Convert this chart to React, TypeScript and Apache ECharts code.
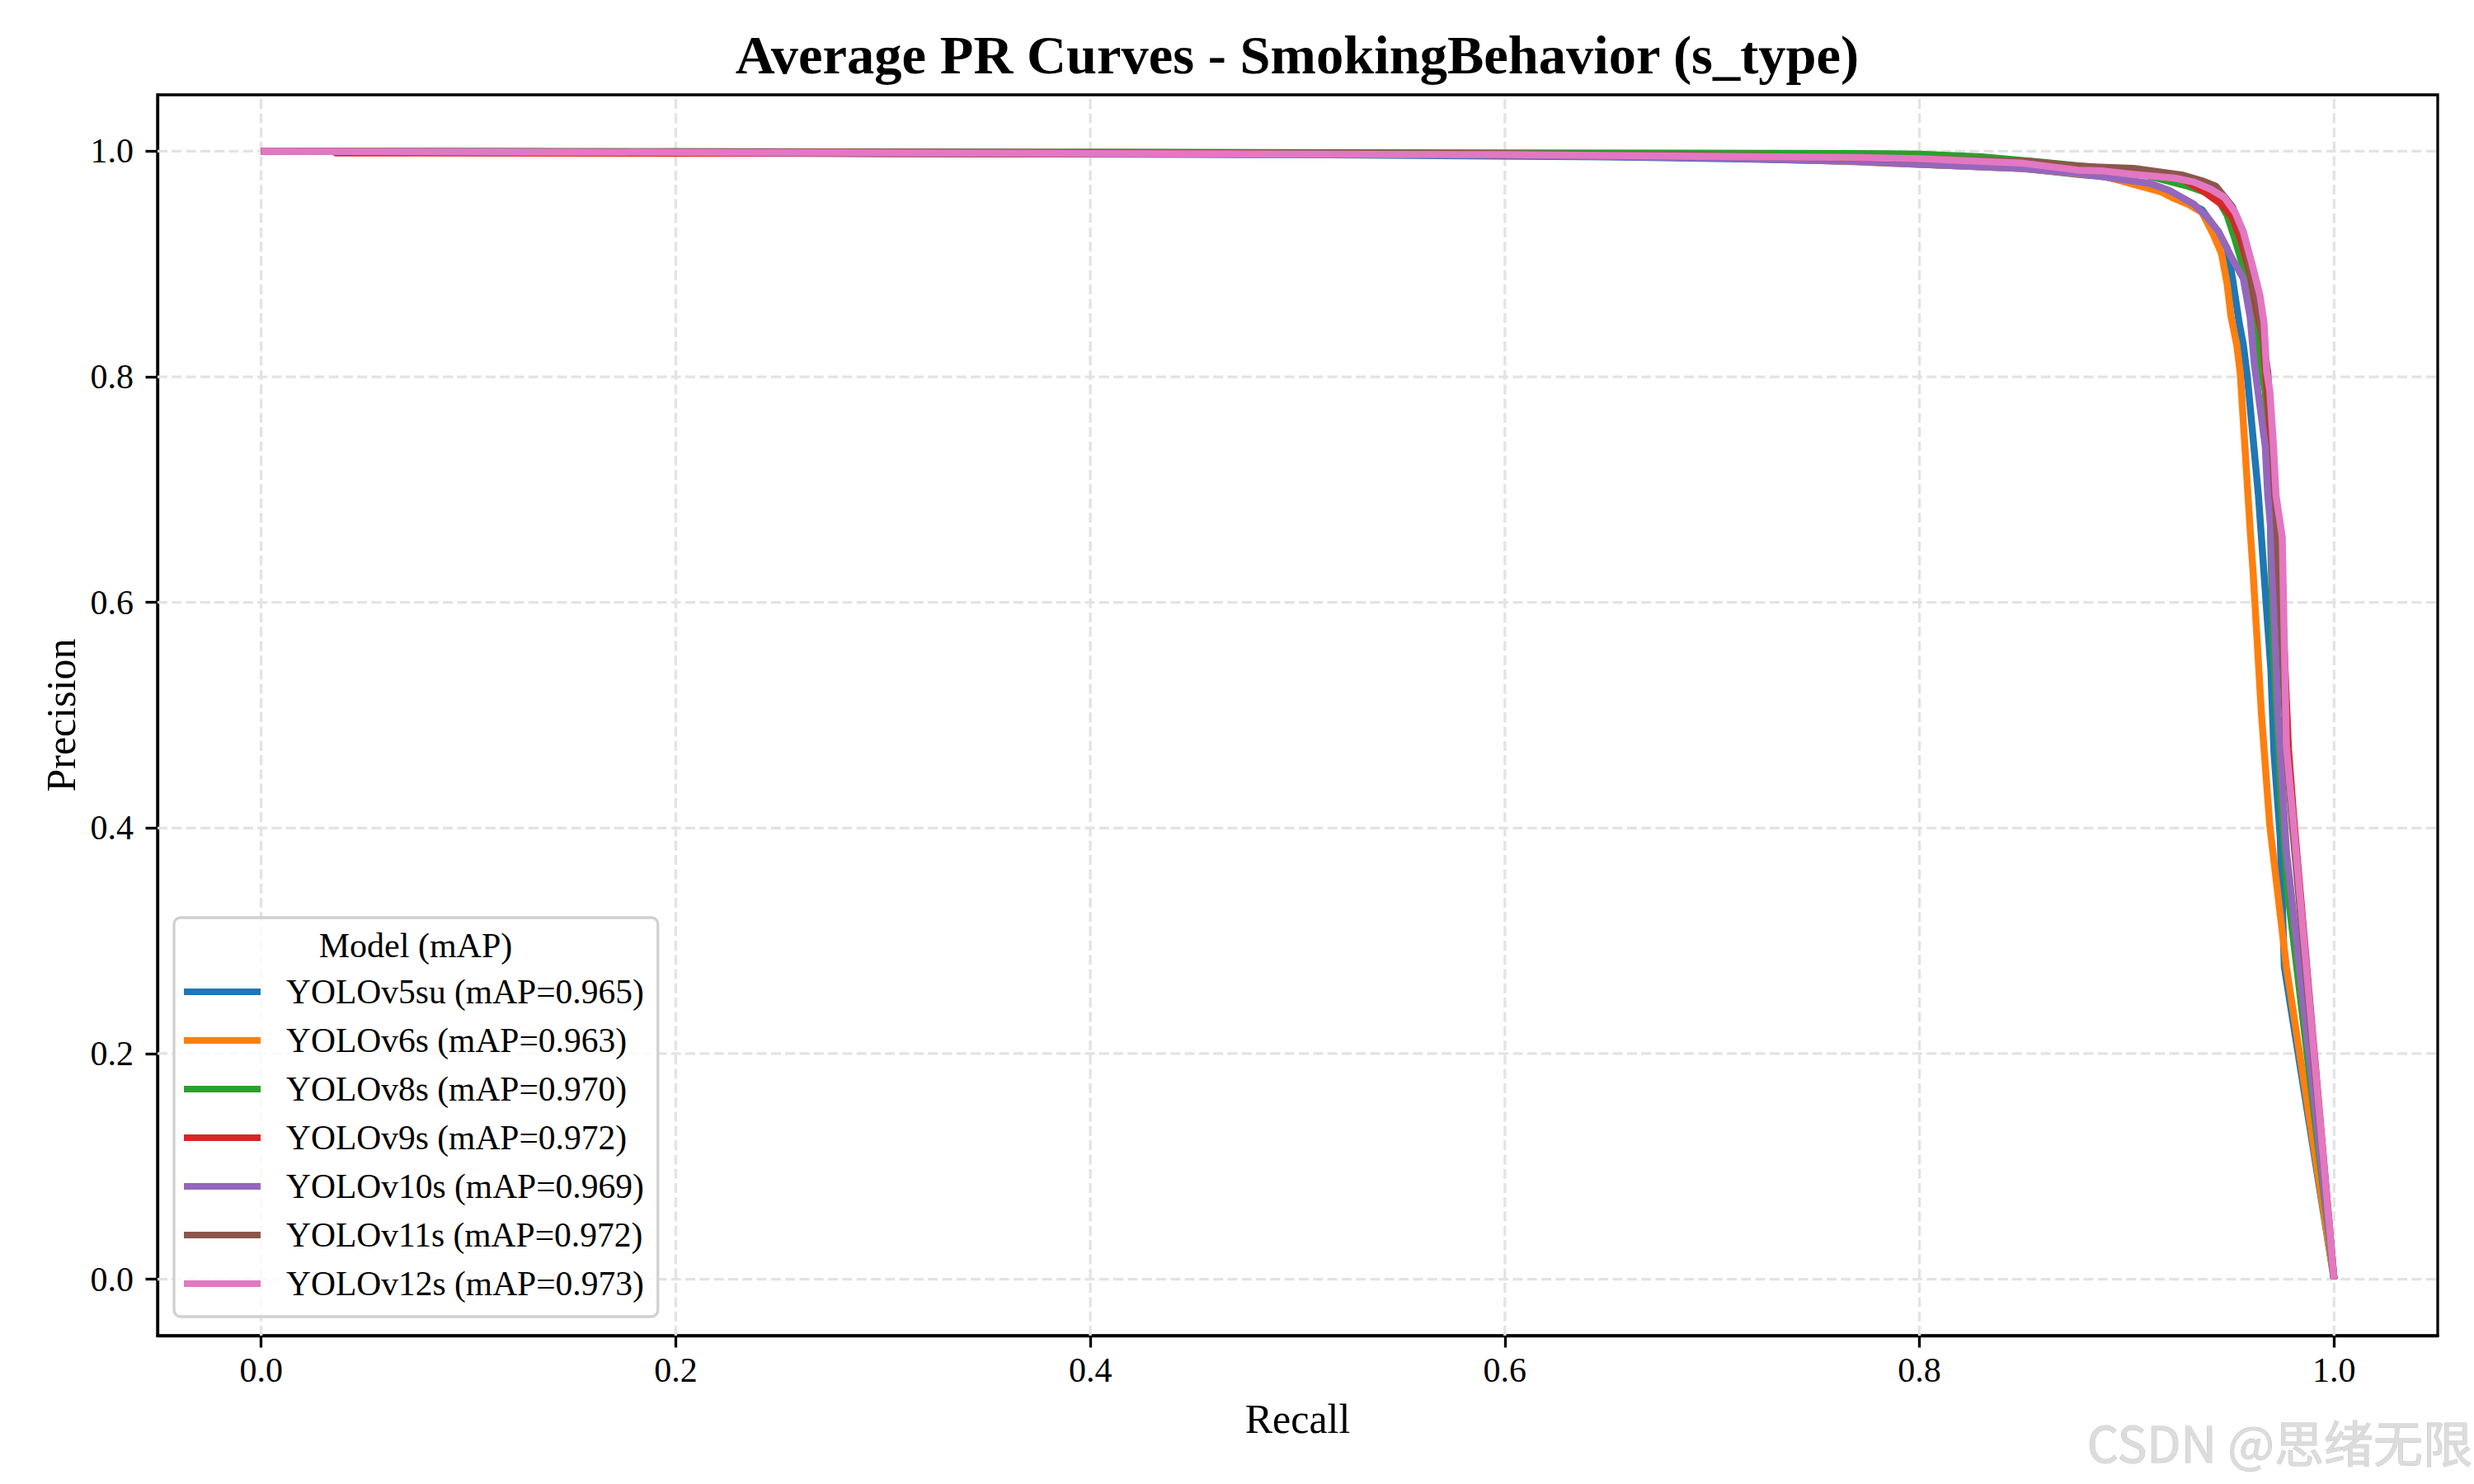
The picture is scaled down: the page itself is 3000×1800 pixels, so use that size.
import React, { useEffect, useRef } from "react";
import * as echarts from "echarts";

// ---------- data ----------
const MODEL_NAMES = ["YOLOv5su", "YOLOv6s", "YOLOv8s", "YOLOv9s", "YOLOv10s", "YOLOv11s", "YOLOv12s"];
const MAP_VALUES = ["0.965", "0.963", "0.970", "0.972", "0.969", "0.972", "0.973"];
const COLORS = ["#1f77b4", "#ff7f0e", "#2ca02c", "#d62728", "#9467bd", "#8c564b", "#e377c2"];
const TICKS = [0, 0.2, 0.4, 0.6, 0.8, 1.0];
const AXIS_MIN = -0.05;
const AXIS_MAX = 1.05;
const TITLE = "Average PR Curves - SmokingBehavior (s_type)";
const LEGEND_TITLE = "Model (mAP)";

// [recall, precision]
const PR_V5SU = [
  [0, 1.0], [0.13, 0.9995], [0.3, 0.998], [0.5, 0.997], [0.65, 0.995], [0.72, 0.993],
  [0.77, 0.991], [0.8, 0.9884], [0.85, 0.9848], [0.8766, 0.9794], [0.8886, 0.9775],
  [0.9125, 0.9689], [0.9296, 0.9543], [0.9363, 0.948], [0.943, 0.931], [0.9484, 0.914],
  [0.951, 0.8872], [0.9542, 0.848], [0.9562, 0.8287], [0.9582, 0.7994], [0.9635, 0.695],
  [0.9695, 0.541], [0.971, 0.467], [0.974, 0.393], [0.976, 0.277], [1.0, 0.0],
];
const PR_V6S = [
  [0, 1.0], [0.2, 0.999], [0.4, 0.998], [0.6, 0.997], [0.72, 0.994], [0.8, 0.9884],
  [0.85, 0.9845], [0.8886, 0.978], [0.9165, 0.964], [0.923, 0.958], [0.9296, 0.953],
  [0.9363, 0.9457], [0.9417, 0.9264], [0.9457, 0.9092], [0.9484, 0.8825], [0.9503, 0.8533],
  [0.953, 0.8287], [0.9547, 0.8043], [0.9595, 0.665], [0.961, 0.625], [0.965, 0.5],
  [0.969, 0.402], [0.977, 0.277], [1.0, 0.0],
];
const PR_V8S = [
  [0, 1.0], [0.2, 0.9995], [0.4, 0.999], [0.6, 0.9985], [0.769, 0.998], [0.8, 0.9974],
  [0.83, 0.995], [0.86, 0.99], [0.9, 0.983], [0.9296, 0.9689], [0.943, 0.9604],
  [0.9484, 0.9433], [0.9523, 0.9214], [0.9562, 0.897], [0.9602, 0.8726], [0.9629, 0.8482],
  [0.9649, 0.8043], [0.9668, 0.787], [0.9688, 0.726], [0.9695, 0.648], [0.9708, 0.555],
  [0.9748, 0.4155], [0.9775, 0.3457], [1.0, 0.0],
];
const PR_V9S = [
  [0, 1.0], [0.035, 1.0], [0.036, 0.9985], [0.3, 0.998], [0.5, 0.9975], [0.7, 0.996],
  [0.8, 0.993], [0.85, 0.99], [0.8766, 0.9865], [0.9032, 0.9835], [0.9271, 0.975],
  [0.9363, 0.9653], [0.9457, 0.953], [0.951, 0.941], [0.955, 0.9214], [0.9595, 0.8921],
  [0.9629, 0.858], [0.9657, 0.8336], [0.9688, 0.763], [0.9708, 0.665], [0.9745, 0.62],
  [0.978, 0.47], [0.9805, 0.41], [1.0, 0.0],
];
const PR_V10S = [
  [0, 1.0], [0.2, 0.999], [0.4, 0.998], [0.6, 0.9965], [0.7, 0.994], [0.769, 0.9909],
  [0.8, 0.9884], [0.8488, 0.9848], [0.8766, 0.9806], [0.8886, 0.9775], [0.9112, 0.9714],
  [0.9205, 0.9653], [0.9324, 0.953], [0.939, 0.941], [0.9443, 0.9287], [0.951, 0.9043],
  [0.9562, 0.8872], [0.9595, 0.8531], [0.9615, 0.8117], [0.9668, 0.7385], [0.968, 0.695],
  [0.9695, 0.665], [0.973, 0.5], [0.977, 0.38], [1.0, 0.0],
];
const PR_V11S = [
  [0, 1.0], [0.2, 0.9995], [0.4, 0.999], [0.6, 0.998], [0.7, 0.996], [0.8, 0.993],
  [0.854, 0.9909], [0.8766, 0.9867], [0.9032, 0.9848], [0.9271, 0.9787], [0.9363, 0.9738],
  [0.943, 0.9689], [0.951, 0.9506], [0.9562, 0.9263], [0.9602, 0.8897], [0.9642, 0.853],
  [0.968, 0.8043], [0.971, 0.72], [0.974, 0.6], [0.977, 0.47], [0.98, 0.4], [1.0, 0.0],
];
const PR_V12S = [
  [0, 1.0], [0.2, 0.999], [0.4, 0.998], [0.6, 0.997], [0.769, 0.9945], [0.8, 0.9933],
  [0.8488, 0.9896], [0.8766, 0.9832], [0.8886, 0.9825], [0.9032, 0.9795], [0.9231, 0.9762],
  [0.9324, 0.9726], [0.9403, 0.9665], [0.947, 0.9592], [0.9523, 0.9457], [0.9562, 0.9287],
  [0.9602, 0.9018], [0.9642, 0.8726], [0.9662, 0.8482], [0.9675, 0.8043], [0.969, 0.788],
  [0.9708, 0.7385], [0.972, 0.695], [0.975, 0.658], [0.977, 0.472], [0.981, 0.393], [1.0, 0.0],
];
const CURVES = [PR_V5SU, PR_V6S, PR_V8S, PR_V9S, PR_V10S, PR_V11S, PR_V12S];

const FONT = "'Liberation Serif', 'Times New Roman', serif";

export default function App() {
  const ref = useRef<HTMLDivElement>(null);

  useEffect(() => {
    if (!ref.current) return;
    const chart = echarts.init(ref.current, null, { renderer: "svg" });

    const gridLineStyle = { color: "#e3e3e3", width: 3.3, type: [12, 5.3] as any };

    // dashed grid lines as plain series, kept underneath the curves
    const gridSeries = [
      ...TICKS.map((v) => [[v, AXIS_MIN], [v, AXIS_MAX]]),
      ...TICKS.map((v) => [[AXIS_MIN, v], [AXIS_MAX, v]]),
    ].map((data, i) => ({
      id: `grid-${i}`,
      name: `__grid${i}`,
      type: "line",
      data,
      showSymbol: false,
      symbol: "none",
      silent: true,
      z: 1,
      lineStyle: gridLineStyle,
      emphasis: { disabled: true },
    }));

    const curveSeries = CURVES.map((data, i) => ({
      name: `${MODEL_NAMES[i]} (mAP=${MAP_VALUES[i]})`,
      type: "line",
      data,
      showSymbol: false,
      symbol: "none",
      smooth: false,
      z: 10,
      lineStyle: { color: COLORS[i], width: 8.5, cap: "butt", join: "round" },
      itemStyle: { color: COLORS[i] },
      emphasis: { disabled: true },
    }));

    const axisCommon = {
      type: "value",
      min: AXIS_MIN,
      max: AXIS_MAX,
      axisLine: { show: true, onZero: false, lineStyle: { color: "#000", width: 3.3 } },
      axisTick: {
        show: true,
        length: 14.5,
        inside: false,
        lineStyle: { color: "#000", width: 3.3 },
        customValues: TICKS,
      },
      axisLabel: {
        show: true,
        customValues: TICKS,
        fontFamily: FONT,
        fontSize: 42,
        color: "#000",
        formatter: (v: number) => v.toFixed(1),
      },
      splitLine: { show: false },
      nameTextStyle: { fontFamily: FONT, fontSize: 50, color: "#000" },
      nameLocation: "middle",
    };

    chart.setOption({
      animation: false,
      backgroundColor: "#ffffff",
      title: {
        text: TITLE,
        left: 1568,
        top: 28,
        textAlign: "center",
        textStyle: { fontFamily: FONT, fontSize: 66.5, fontWeight: "bold", color: "#000" },
      },
      grid: {
        left: 191,
        right: 44,
        top: 115,
        bottom: 180,
        show: true,
        borderColor: "#000",
        borderWidth: 3.3,
        backgroundColor: "transparent",
      },
      xAxis: {
        ...axisCommon,
        name: "Recall",
        nameGap: 76,
        axisLabel: { ...axisCommon.axisLabel, margin: 21 },
      },
      yAxis: {
        ...axisCommon,
        name: "Precision",
        nameGap: 92,
        axisLabel: { ...axisCommon.axisLabel, margin: 29 },
      },
      legend: {
        data: curveSeries.map((s) => s.name),
        orient: "vertical",
        left: 211,
        top: 1113,
        z: 20,
        padding: [69, 17, 19, 12],
        itemWidth: 93,
        itemHeight: 8,
        itemGap: 17,
        icon: "rect",
        backgroundColor: "rgba(255,255,255,0.8)",
        borderColor: "#d0d0d0",
        borderWidth: 3.3,
        borderRadius: 8,
        selectedMode: false,
        textStyle: {
          fontFamily: FONT,
          fontSize: 41.5,
          lineHeight: 42,
          color: "#000",
          padding: [0, 0, 0, 26],
        },
      },
      graphic: [
        {
          type: "text",
          x: 504,
          y: 1147,
          z: 100,
          style: {
            text: LEGEND_TITLE,
            fontFamily: FONT,
            fontSize: 42,
            fill: "#000",
            align: "center",
            verticalAlign: "middle",
          },
        },
        {
          type: "text",
          x: 2998,
          y: 1747,
          z: 100,
          style: {
            text: "CSDN @思绪无限",
            fontFamily: "'Noto Sans CJK SC', 'Noto Sans', sans-serif",
            fontSize: 60,
            fill: "#dcdcdc",
            stroke: "#c8c8c8",
            lineWidth: 1,
            align: "right",
            verticalAlign: "middle",
          },
        },
      ],
      series: [...gridSeries, ...curveSeries],
    });

    return () => {
      chart.dispose();
    };
  }, []);

  return (
    <div
      ref={ref}
      style={{ position: "absolute", left: 0, top: 0, width: 3000, height: 1800, background: "#fff" }}
    />
  );
}
